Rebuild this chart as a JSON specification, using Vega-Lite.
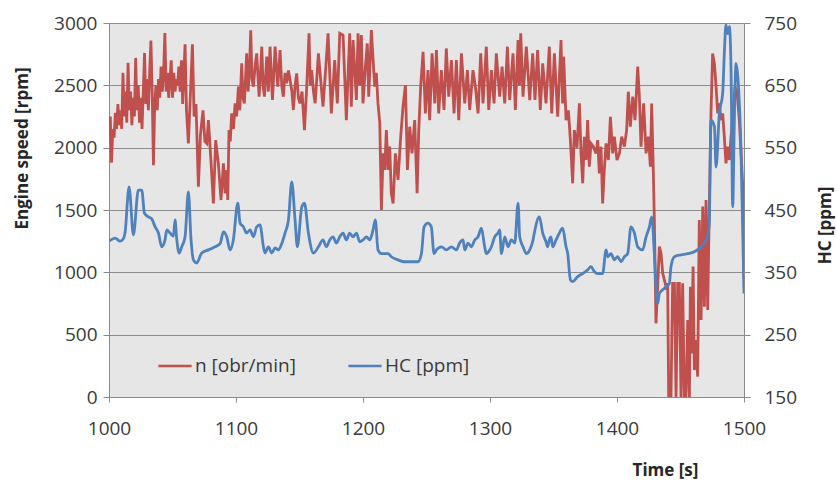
{
  "$schema": "https://vega.github.io/schema/vega-lite/v6.json",
  "width": 635,
  "height": 374,
  "autosize": {"type": "none"},
  "padding": {"left": 109, "top": 23, "right": 93, "bottom": 85},
  "background": "#ffffff",
  "config": {
    "view": {"fill": "#E6E6E6", "stroke": null},
    "font": "Open Sans",
    "axis": {
      "labelFont": "Open Sans",
      "labelFontSize": 19,
      "labelColor": "#3a3a3a",
      "labelFlush": false,
      "labelOverlap": false,
      "format": "d",
      "titleFont": "Open Sans",
      "titleFontSize": 17,
      "titleFontWeight": "bold",
      "titleColor": "#262626",
      "domainColor": "#8a8a8a",
      "tickColor": "#8a8a8a",
      "gridColor": "#8c8c8c",
      "gridWidth": 1
    }
  },
  "datasets": {
    "speed": [
      {"t": 1000, "n": 2100}, {"t": 1001, "n": 2250}, {"t": 1002, "n": 1880}, {"t": 1003, "n": 2150},
      {"t": 1004, "n": 2080}, {"t": 1005, "n": 2280}, {"t": 1006, "n": 2150}, {"t": 1007, "n": 2350},
      {"t": 1008, "n": 2180}, {"t": 1009, "n": 2300}, {"t": 1010, "n": 2150}, {"t": 1011, "n": 2600},
      {"t": 1012, "n": 2250}, {"t": 1013, "n": 2450}, {"t": 1014, "n": 2200}, {"t": 1015, "n": 2680},
      {"t": 1016, "n": 2300}, {"t": 1017, "n": 2450}, {"t": 1018, "n": 2180}, {"t": 1019, "n": 2400},
      {"t": 1020, "n": 2250}, {"t": 1021, "n": 2720}, {"t": 1022, "n": 2300}, {"t": 1023, "n": 2500},
      {"t": 1024, "n": 2200}, {"t": 1025, "n": 2400}, {"t": 1026, "n": 2150}, {"t": 1027, "n": 2450},
      {"t": 1028, "n": 2760}, {"t": 1029, "n": 2350}, {"t": 1030, "n": 2550}, {"t": 1031, "n": 2300},
      {"t": 1032, "n": 2600}, {"t": 1033, "n": 2860}, {"t": 1034, "n": 2450}, {"t": 1035, "n": 1860},
      {"t": 1036, "n": 2350}, {"t": 1037, "n": 2500}, {"t": 1038, "n": 2300}, {"t": 1039, "n": 2550},
      {"t": 1040, "n": 2400}, {"t": 1041, "n": 2650}, {"t": 1042, "n": 2450}, {"t": 1043, "n": 2600},
      {"t": 1044, "n": 2920}, {"t": 1045, "n": 2450}, {"t": 1046, "n": 2600}, {"t": 1047, "n": 2400},
      {"t": 1048, "n": 2550}, {"t": 1049, "n": 2700}, {"t": 1050, "n": 2400}, {"t": 1051, "n": 2600},
      {"t": 1052, "n": 2450}, {"t": 1053, "n": 2550}, {"t": 1054, "n": 2500}, {"t": 1055, "n": 2650},
      {"t": 1056, "n": 2450}, {"t": 1057, "n": 2700}, {"t": 1058, "n": 2350}, {"t": 1059.9, "n": 2830},
      {"t": 1061, "n": 2300}, {"t": 1062.5, "n": 2034}, {"t": 1064, "n": 2400}, {"t": 1065.7, "n": 2830},
      {"t": 1067, "n": 2250}, {"t": 1068.5, "n": 2350}, {"t": 1070.4, "n": 1687}, {"t": 1072, "n": 2100},
      {"t": 1074, "n": 2300}, {"t": 1075.5, "n": 2050}, {"t": 1077, "n": 2034}, {"t": 1078.3, "n": 2221},
      {"t": 1080.4, "n": 1874}, {"t": 1082.2, "n": 1553}, {"t": 1084, "n": 2061}, {"t": 1086.1, "n": 1874},
      {"t": 1088.2, "n": 1580}, {"t": 1090.1, "n": 1874}, {"t": 1091.4, "n": 1634}, {"t": 1092.7, "n": 1821},
      {"t": 1093.5, "n": 1580}, {"t": 1094.5, "n": 2141}, {"t": 1095.5, "n": 2050}, {"t": 1096.6, "n": 2275},
      {"t": 1098, "n": 2150}, {"t": 1099.3, "n": 2355}, {"t": 1100.5, "n": 2250}, {"t": 1101.9, "n": 2489},
      {"t": 1103, "n": 2300}, {"t": 1104.5, "n": 2676}, {"t": 1105.5, "n": 2400}, {"t": 1106.6, "n": 2355},
      {"t": 1108.4, "n": 2756}, {"t": 1109.5, "n": 2450}, {"t": 1110.5, "n": 2600}, {"t": 1111.6, "n": 2941},
      {"t": 1112.6, "n": 2550}, {"t": 1113.7, "n": 2489}, {"t": 1115, "n": 2650}, {"t": 1116.3, "n": 2756},
      {"t": 1118.2, "n": 2409}, {"t": 1119.3, "n": 2600}, {"t": 1120.3, "n": 2810}, {"t": 1121.3, "n": 2500},
      {"t": 1122.4, "n": 2409}, {"t": 1124.2, "n": 2730}, {"t": 1125.5, "n": 2450}, {"t": 1126.8, "n": 2810},
      {"t": 1128.7, "n": 2382}, {"t": 1129.8, "n": 2600}, {"t": 1130.8, "n": 2810}, {"t": 1132.9, "n": 2489},
      {"t": 1134.7, "n": 2783}, {"t": 1136, "n": 2500}, {"t": 1137.3, "n": 2409}, {"t": 1138.6, "n": 2600},
      {"t": 1139.9, "n": 2516}, {"t": 1141.3, "n": 2620}, {"t": 1142.6, "n": 2542}, {"t": 1144, "n": 2450},
      {"t": 1145.2, "n": 2302}, {"t": 1146.5, "n": 2500}, {"t": 1147.8, "n": 2596}, {"t": 1149.1, "n": 2400},
      {"t": 1150.4, "n": 2355}, {"t": 1152, "n": 2450}, {"t": 1153.9, "n": 2141}, {"t": 1155.7, "n": 2489},
      {"t": 1157.5, "n": 2917}, {"t": 1158.5, "n": 2500}, {"t": 1159.6, "n": 2622}, {"t": 1161, "n": 2450},
      {"t": 1162.3, "n": 2355}, {"t": 1163.6, "n": 2550}, {"t": 1164.9, "n": 2756},
      {"t": 1166.2, "n": 2600}, {"t": 1168.5, "n": 2330}, {"t": 1170.4, "n": 2600}, {"t": 1172.5, "n": 2917},
      {"t": 1175.1, "n": 2275}, {"t": 1177.7, "n": 2703}, {"t": 1179.8, "n": 2355}, {"t": 1181.7, "n": 2917},
      {"t": 1184.3, "n": 2903}, {"t": 1186.9, "n": 2221}, {"t": 1189.5, "n": 2917}, {"t": 1190.8, "n": 2329},
      {"t": 1192.2, "n": 2863}, {"t": 1194.8, "n": 2382}, {"t": 1196.1, "n": 2917}, {"t": 1197.4, "n": 2500},
      {"t": 1198.7, "n": 2903}, {"t": 1200, "n": 2355}, {"t": 1201.9, "n": 2650}, {"t": 1203.4, "n": 2836},
      {"t": 1204.5, "n": 2409}, {"t": 1206.6, "n": 2943}, {"t": 1209.2, "n": 2489}, {"t": 1210.5, "n": 2600},
      {"t": 1211.8, "n": 2355}, {"t": 1213.2, "n": 2200}, {"t": 1214.5, "n": 1500}, {"t": 1215.8, "n": 1954},
      {"t": 1217.1, "n": 1821}, {"t": 1218.4, "n": 2141}, {"t": 1219.7, "n": 1821}, {"t": 1221, "n": 2008},
      {"t": 1222.3, "n": 1634}, {"t": 1223.7, "n": 1553}, {"t": 1225.5, "n": 1954}, {"t": 1227.6, "n": 1741},
      {"t": 1229.7, "n": 2088}, {"t": 1231.5, "n": 2329}, {"t": 1233.4, "n": 2502}, {"t": 1235, "n": 1821},
      {"t": 1236.8, "n": 2168}, {"t": 1238.6, "n": 1954}, {"t": 1240.7, "n": 2221}, {"t": 1242.6, "n": 1634},
      {"t": 1243.9, "n": 2141}, {"t": 1245.4, "n": 2489}, {"t": 1247.3, "n": 2769}, {"t": 1249.1, "n": 2275},
      {"t": 1251.2, "n": 2622}, {"t": 1252.5, "n": 2221}, {"t": 1254.4, "n": 2756}, {"t": 1256.5, "n": 2355},
      {"t": 1257.8, "n": 2783}, {"t": 1259.6, "n": 2275}, {"t": 1261.7, "n": 2622}, {"t": 1263.8, "n": 2302},
      {"t": 1265.6, "n": 2796}, {"t": 1267.5, "n": 2409}, {"t": 1269.6, "n": 2703}, {"t": 1271.7, "n": 2275},
      {"t": 1273.5, "n": 2703}, {"t": 1275.4, "n": 2221}, {"t": 1277.5, "n": 2756}, {"t": 1280.1, "n": 2355},
      {"t": 1282.2, "n": 2622}, {"t": 1284, "n": 2302}, {"t": 1286.6, "n": 2622}, {"t": 1288.5, "n": 2489},
      {"t": 1290.6, "n": 2275}, {"t": 1292.7, "n": 2756}, {"t": 1294.5, "n": 2355}, {"t": 1297.1, "n": 2810},
      {"t": 1299, "n": 2302}, {"t": 1301.1, "n": 2622}, {"t": 1303.2, "n": 2355}, {"t": 1305, "n": 2756},
      {"t": 1307.6, "n": 2409}, {"t": 1309.5, "n": 2650}, {"t": 1311.6, "n": 2355}, {"t": 1313.7, "n": 2810},
      {"t": 1315.5, "n": 2382}, {"t": 1318.1, "n": 2756}, {"t": 1320, "n": 2302}, {"t": 1322.1, "n": 2863},
      {"t": 1323.2, "n": 2500}, {"t": 1324.2, "n": 2917}, {"t": 1326, "n": 2409}, {"t": 1328.6, "n": 2810},
      {"t": 1331.3, "n": 2382}, {"t": 1333.6, "n": 2756}, {"t": 1335.4, "n": 2382}, {"t": 1337.5, "n": 2783},
      {"t": 1339.6, "n": 2302}, {"t": 1341.5, "n": 2676}, {"t": 1344.1, "n": 2355}, {"t": 1346.7, "n": 2810},
      {"t": 1348.6, "n": 2275}, {"t": 1350.7, "n": 2756}, {"t": 1353.3, "n": 2248}, {"t": 1355.9, "n": 2863},
      {"t": 1357.2, "n": 2355}, {"t": 1358, "n": 2730}, {"t": 1359.9, "n": 2221}, {"t": 1361.7, "n": 2300},
      {"t": 1363.3, "n": 2061}, {"t": 1365.1, "n": 1714}, {"t": 1366.4, "n": 2141}, {"t": 1368.5, "n": 2000},
      {"t": 1370.4, "n": 2355}, {"t": 1371.7, "n": 1954}, {"t": 1373, "n": 1714}, {"t": 1374.3, "n": 2088},
      {"t": 1375.6, "n": 1901}, {"t": 1376.9, "n": 2221}, {"t": 1378.2, "n": 1847}, {"t": 1379.5, "n": 2034},
      {"t": 1381.4, "n": 2008}, {"t": 1383.5, "n": 1954}, {"t": 1384.8, "n": 2061}, {"t": 1386.1, "n": 1794},
      {"t": 1387.4, "n": 2008}, {"t": 1388.7, "n": 1553}, {"t": 1390, "n": 1821}, {"t": 1391.4, "n": 2034},
      {"t": 1393.2, "n": 1901}, {"t": 1394.8, "n": 2248}, {"t": 1396.6, "n": 1954}, {"t": 1397.9, "n": 2088},
      {"t": 1400, "n": 1901}, {"t": 1401.9, "n": 1954}, {"t": 1403.7, "n": 2088}, {"t": 1405.8, "n": 2008},
      {"t": 1407.6, "n": 2141}, {"t": 1408.9, "n": 2449}, {"t": 1410.5, "n": 2168}, {"t": 1412.4, "n": 2409},
      {"t": 1414.2, "n": 2221}, {"t": 1416.3, "n": 2650}, {"t": 1417.6, "n": 2409}, {"t": 1418.9, "n": 2008},
      {"t": 1421, "n": 2355}, {"t": 1422.9, "n": 1954}, {"t": 1424.7, "n": 2088}, {"t": 1426.3, "n": 1847},
      {"t": 1427.3, "n": 2355}, {"t": 1428.4, "n": 1901}, {"t": 1429.4, "n": 1420}, {"t": 1430.7, "n": 591},
      {"t": 1432, "n": 885}, {"t": 1433.4, "n": 1206}, {"t": 1434.7, "n": 1152}, {"t": 1436, "n": 992},
      {"t": 1437.3, "n": 939}, {"t": 1438.6, "n": 885}, {"t": 1439.9, "n": 912}, {"t": 1440.7, "n": 0},
      {"t": 1442.5, "n": 0}, {"t": 1443.8, "n": 912}, {"t": 1445.2, "n": 912}, {"t": 1446.5, "n": 0},
      {"t": 1447.8, "n": 912}, {"t": 1449.1, "n": 912}, {"t": 1450.4, "n": 0}, {"t": 1451.7, "n": 912},
      {"t": 1453, "n": 0}, {"t": 1454.3, "n": 0}, {"t": 1455.7, "n": 618}, {"t": 1457, "n": 0},
      {"t": 1457.8, "n": 885}, {"t": 1458.8, "n": 350}, {"t": 1459.9, "n": 1046}, {"t": 1460.9, "n": 216},
      {"t": 1462.2, "n": 457}, {"t": 1463.5, "n": 163}, {"t": 1464.8, "n": 1420}, {"t": 1466.2, "n": 618},
      {"t": 1467.5, "n": 1527}, {"t": 1468.8, "n": 725}, {"t": 1470.1, "n": 1580}, {"t": 1471.4, "n": 698},
      {"t": 1472.7, "n": 1527}, {"t": 1474, "n": 2275}, {"t": 1475.3, "n": 2756}, {"t": 1476.7, "n": 2676},
      {"t": 1478, "n": 2489}, {"t": 1479.3, "n": 2275}, {"t": 1480.6, "n": 2355}, {"t": 1481.9, "n": 2221},
      {"t": 1483.2, "n": 2275}, {"t": 1484.5, "n": 2088}, {"t": 1485.8, "n": 1874}, {"t": 1487.2, "n": 2008},
      {"t": 1488.5, "n": 1901}, {"t": 1489.8, "n": 2088}, {"t": 1491.1, "n": 2221}, {"t": 1492.9, "n": 2489},
      {"t": 1494.5, "n": 2449}, {"t": 1496.3, "n": 2221}, {"t": 1497.7, "n": 1954}, {"t": 1499, "n": 1700},
      {"t": 1500, "n": 950}
    ],
    "hc": [
      {"t": 1000, "c": 400}, {"t": 1004.8, "c": 405}, {"t": 1008.7, "c": 400}, {"t": 1011.3, "c": 404},
      {"t": 1012.6, "c": 413}, {"t": 1015.8, "c": 487}, {"t": 1019.2, "c": 410}, {"t": 1023.1, "c": 482},
      {"t": 1025.8, "c": 482}, {"t": 1027.9, "c": 445}, {"t": 1031, "c": 439}, {"t": 1033.6, "c": 436},
      {"t": 1036.3, "c": 423}, {"t": 1038.9, "c": 413}, {"t": 1041.5, "c": 391}, {"t": 1044.1, "c": 402},
      {"t": 1045.5, "c": 418}, {"t": 1048.1, "c": 413}, {"t": 1050.7, "c": 408}, {"t": 1052, "c": 434},
      {"t": 1053.3, "c": 404}, {"t": 1055.2, "c": 381}, {"t": 1057.3, "c": 391}, {"t": 1059.9, "c": 407},
      {"t": 1062.5, "c": 479}, {"t": 1064.6, "c": 402}, {"t": 1066.5, "c": 370}, {"t": 1069.1, "c": 365},
      {"t": 1073, "c": 381}, {"t": 1078.3, "c": 386}, {"t": 1083.5, "c": 391}, {"t": 1087.5, "c": 396},
      {"t": 1090.1, "c": 415}, {"t": 1092.7, "c": 407}, {"t": 1095.3, "c": 386}, {"t": 1097.9, "c": 402},
      {"t": 1101.4, "c": 461}, {"t": 1103.2, "c": 429}, {"t": 1105.8, "c": 423}, {"t": 1108.4, "c": 413},
      {"t": 1111.1, "c": 418}, {"t": 1113.7, "c": 407}, {"t": 1116.3, "c": 423}, {"t": 1118.9, "c": 426},
      {"t": 1121.6, "c": 391}, {"t": 1122.9, "c": 381}, {"t": 1125.5, "c": 391}, {"t": 1128.1, "c": 381},
      {"t": 1130.8, "c": 389}, {"t": 1133.4, "c": 386}, {"t": 1136, "c": 396}, {"t": 1138.6, "c": 413},
      {"t": 1141.3, "c": 434}, {"t": 1143.9, "c": 495}, {"t": 1146.5, "c": 434}, {"t": 1148.3, "c": 391},
      {"t": 1151.8, "c": 455}, {"t": 1153.9, "c": 461}, {"t": 1157, "c": 413}, {"t": 1161, "c": 381},
      {"t": 1164.9, "c": 391}, {"t": 1168.5, "c": 402}, {"t": 1171.2, "c": 391}, {"t": 1173.8, "c": 402},
      {"t": 1176.4, "c": 407}, {"t": 1179, "c": 397}, {"t": 1181.7, "c": 407}, {"t": 1184.3, "c": 413},
      {"t": 1186.9, "c": 402}, {"t": 1189.5, "c": 413}, {"t": 1192.2, "c": 407}, {"t": 1194.8, "c": 413},
      {"t": 1197.4, "c": 399}, {"t": 1200, "c": 402}, {"t": 1202.7, "c": 407}, {"t": 1205.3, "c": 402},
      {"t": 1207.9, "c": 418}, {"t": 1209.7, "c": 434}, {"t": 1211.8, "c": 386}, {"t": 1214.5, "c": 380},
      {"t": 1219.7, "c": 380}, {"t": 1222.3, "c": 375}, {"t": 1227.6, "c": 370}, {"t": 1232.8, "c": 367},
      {"t": 1243.3, "c": 367}, {"t": 1246, "c": 380}, {"t": 1248.1, "c": 423}, {"t": 1251.2, "c": 429},
      {"t": 1253.8, "c": 423}, {"t": 1255.9, "c": 380}, {"t": 1257.8, "c": 386}, {"t": 1261.7, "c": 391},
      {"t": 1265.7, "c": 386}, {"t": 1269.6, "c": 391}, {"t": 1273.5, "c": 386}, {"t": 1276.1, "c": 397},
      {"t": 1278.8, "c": 402}, {"t": 1280.1, "c": 386}, {"t": 1282.7, "c": 397}, {"t": 1285.3, "c": 391},
      {"t": 1288, "c": 402}, {"t": 1290.6, "c": 407}, {"t": 1293.2, "c": 421}, {"t": 1295.8, "c": 391},
      {"t": 1297.1, "c": 380}, {"t": 1299.8, "c": 386}, {"t": 1301.1, "c": 391}, {"t": 1303.7, "c": 407},
      {"t": 1306.3, "c": 413}, {"t": 1307.6, "c": 418}, {"t": 1309, "c": 380}, {"t": 1311.6, "c": 407},
      {"t": 1314.2, "c": 391}, {"t": 1316.8, "c": 402}, {"t": 1319.5, "c": 397}, {"t": 1322.1, "c": 461},
      {"t": 1323.4, "c": 407}, {"t": 1326, "c": 391}, {"t": 1328.6, "c": 380}, {"t": 1331.3, "c": 386},
      {"t": 1333.9, "c": 402}, {"t": 1334.9, "c": 413}, {"t": 1338.9, "c": 439}, {"t": 1341.5, "c": 413},
      {"t": 1344.1, "c": 399}, {"t": 1345.4, "c": 391}, {"t": 1346.7, "c": 402}, {"t": 1348, "c": 407},
      {"t": 1349.4, "c": 391}, {"t": 1352, "c": 402}, {"t": 1354.6, "c": 413}, {"t": 1357.2, "c": 421},
      {"t": 1359.9, "c": 391}, {"t": 1361.2, "c": 380}, {"t": 1363.3, "c": 338}, {"t": 1365.1, "c": 335},
      {"t": 1369, "c": 343}, {"t": 1373, "c": 348}, {"t": 1376.9, "c": 354}, {"t": 1379.5, "c": 359},
      {"t": 1382.2, "c": 351}, {"t": 1384.8, "c": 348}, {"t": 1388.7, "c": 348}, {"t": 1391.4, "c": 386},
      {"t": 1392.7, "c": 375}, {"t": 1395.3, "c": 380}, {"t": 1397.9, "c": 370}, {"t": 1400.5, "c": 375},
      {"t": 1403.2, "c": 367}, {"t": 1405.8, "c": 375}, {"t": 1408.4, "c": 380}, {"t": 1411, "c": 423},
      {"t": 1413.7, "c": 413}, {"t": 1416.3, "c": 391}, {"t": 1420.2, "c": 386}, {"t": 1422.9, "c": 407},
      {"t": 1425.5, "c": 423}, {"t": 1427.3, "c": 439}, {"t": 1429.4, "c": 380}, {"t": 1430.7, "c": 327},
      {"t": 1432, "c": 300}, {"t": 1433.4, "c": 316}, {"t": 1436, "c": 322}, {"t": 1438.6, "c": 327},
      {"t": 1441.2, "c": 332}, {"t": 1442.5, "c": 359}, {"t": 1445.2, "c": 375}, {"t": 1450.4, "c": 378},
      {"t": 1455.7, "c": 380}, {"t": 1460.9, "c": 383}, {"t": 1466.2, "c": 391}, {"t": 1471.4, "c": 407},
      {"t": 1472.7, "c": 434}, {"t": 1474, "c": 594}, {"t": 1476.7, "c": 584}, {"t": 1478, "c": 519},
      {"t": 1480.6, "c": 605}, {"t": 1483.2, "c": 637}, {"t": 1484.5, "c": 701}, {"t": 1485.8, "c": 747},
      {"t": 1487.2, "c": 733}, {"t": 1488.5, "c": 744}, {"t": 1489.8, "c": 675}, {"t": 1491.1, "c": 455},
      {"t": 1492.4, "c": 594}, {"t": 1493.7, "c": 685}, {"t": 1495.1, "c": 664}, {"t": 1497.7, "c": 541},
      {"t": 1500, "c": 316}
    ]
  },
  "layer": [
    {
      "data": {"name": "speed"},
      "mark": {"type": "line", "strokeWidth": 2.8, "clip": true},
      "encoding": {
        "x": {
          "field": "t", "type": "quantitative",
          "scale": {"domain": [1000, 1500], "nice": false, "zero": false},
          "axis": {
            "values": [1000, 1100, 1200, 1300, 1400, 1500],
            "grid": false, "tickSize": 5, "labelPadding": 17,
            "title": "Time [s]", "titleX": 556, "titleY": 73,
            "titleAlign": "center", "titleBaseline": "middle", "titleAngle": 0
          }
        },
        "y": {
          "field": "n", "type": "quantitative",
          "scale": {"domain": [0, 3000], "nice": false},
          "axis": {
            "values": [0, 500, 1000, 1500, 2000, 2500, 3000],
            "grid": true, "tickSize": 6, "labelPadding": 6,
            "title": "Engine speed [rpm]", "titleX": -87, "titleY": 125,
            "titleAngle": -90, "titleAlign": "center", "titleBaseline": "middle"
          }
        },
        "color": {
          "datum": "n [obr/min]", "type": "nominal",
          "scale": {"domain": ["n [obr/min]", "HC [ppm]"], "range": ["#C0504D", "#4F81BD"]},
          "legend": {
            "orient": "none", "legendX": 48, "legendY": 325, "direction": "horizontal",
            "title": null, "symbolType": "stroke", "symbolSize": 1100, "symbolStrokeWidth": 2.5,
            "labelFont": "Open Sans", "labelFontSize": 19, "labelColor": "#3a3a3a",
            "labelOffset": 2, "columnPadding": 47, "padding": 0
          }
        }
      }
    },
    {
      "data": {"name": "hc"},
      "mark": {"type": "line", "strokeWidth": 2.8, "interpolate": "monotone", "clip": true},
      "encoding": {
        "x": {"field": "t", "type": "quantitative"},
        "y": {
          "field": "c", "type": "quantitative",
          "scale": {"domain": [150, 750], "nice": false, "zero": false},
          "axis": {
            "orient": "right",
            "values": [150, 250, 350, 450, 550, 650, 750],
            "grid": false, "tickSize": 6, "labelPadding": 14,
            "title": "HC [ppm]", "titleX": 81, "titleY": 202,
            "titleAngle": -90, "titleAlign": "center", "titleBaseline": "middle"
          }
        },
        "color": {"datum": "HC [ppm]", "type": "nominal"}
      }
    }
  ],
  "resolve": {"scale": {"y": "independent"}, "axis": {"y": "independent"}}
}
